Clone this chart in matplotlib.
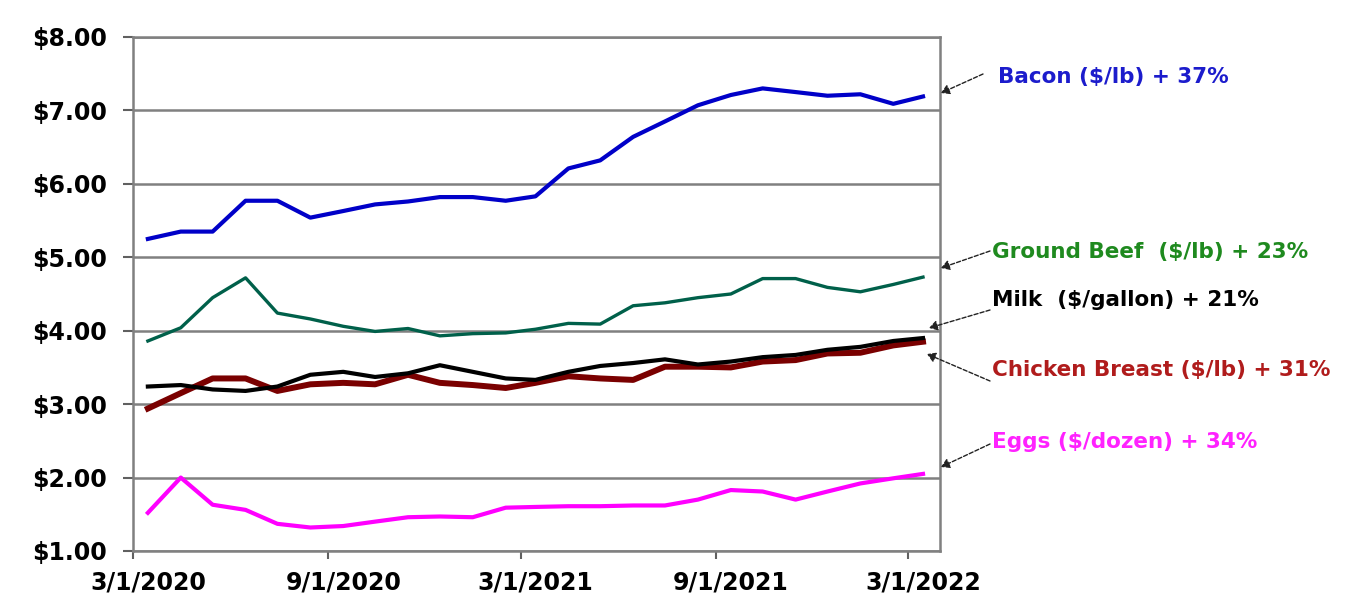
import matplotlib
matplotlib.use("Agg")
import matplotlib.pyplot as plt
import matplotlib.dates as mdates
import pandas as pd

# ---- data (monthly retail prices, Mar 2020 - Mar 2022) ----
months = pd.date_range("2020-03-01", periods=25, freq="MS") + pd.Timedelta(days=14)

bacon = [5.25, 5.35, 5.35, 5.77, 5.77, 5.54, 5.63, 5.72, 5.76, 5.82, 5.82, 5.77, 5.83,
         6.21, 6.32, 6.64, 6.85, 7.07, 7.21, 7.30, 7.25, 7.20, 7.22, 7.09, 7.19]
ground_beef = [3.86, 4.04, 4.45, 4.72, 4.24, 4.16, 4.06, 3.99, 4.03, 3.93, 3.96, 3.97, 4.02,
               4.10, 4.09, 4.34, 4.38, 4.45, 4.50, 4.71, 4.71, 4.59, 4.53, 4.63, 4.73]
milk = [3.24, 3.26, 3.20, 3.18, 3.24, 3.40, 3.44, 3.37, 3.42, 3.53, 3.44, 3.35, 3.33,
        3.44, 3.52, 3.56, 3.61, 3.54, 3.58, 3.64, 3.67, 3.74, 3.78, 3.86, 3.90]
chicken = [2.94, 3.15, 3.35, 3.35, 3.18, 3.27, 3.29, 3.27, 3.40, 3.29, 3.26, 3.22, 3.29,
           3.38, 3.35, 3.33, 3.51, 3.51, 3.50, 3.58, 3.60, 3.69, 3.70, 3.80, 3.85]
eggs = [1.52, 2.00, 1.63, 1.56, 1.37, 1.32, 1.34, 1.40, 1.46, 1.47, 1.46, 1.59, 1.60,
        1.61, 1.61, 1.62, 1.62, 1.70, 1.83, 1.81, 1.70, 1.81, 1.92, 1.99, 2.05]

labels = ["Bacon ($/lb) + 37%", "Ground Beef  ($/lb) + 23%", "Milk  ($/gallon) + 21%",
          "Chicken Breast ($/lb) + 31%", "Eggs ($/dozen) + 34%"]
y_ticks = [1, 2, 3, 4, 5, 6, 7, 8]
x_tick_dates = pd.to_datetime(["2020-03-01", "2020-09-01", "2021-03-01", "2021-09-01", "2022-03-01"])
x_tick_labels = ["3/1/2020", "9/1/2020", "3/1/2021", "9/1/2021", "3/1/2022"]

W, H = 1350, 614
fig = plt.figure(figsize=(W / 100, H / 100), dpi=100)
ax = fig.add_axes([133 / W, 1 - 551 / H, (940 - 133) / W, (551 - 37) / H])

ax.plot(months, bacon, color="#0000c8", lw=3.0, zorder=3)
ax.plot(months, ground_beef, color="#00604a", lw=2.4, zorder=3)
ax.plot(months, chicken, color="#7a0000", lw=4.3, zorder=3)
ax.plot(months, milk, color="black", lw=3.0, zorder=4)
ax.plot(months, eggs, color="#ff00ff", lw=3.0, zorder=3)

ax.set_ylim(1, 8)
ax.set_xlim(pd.Timestamp("2020-03-01"), pd.Timestamp("2022-03-31"))
ax.set_yticks(y_ticks)
ax.set_yticklabels([f"${v:.2f}" for v in y_ticks], fontsize=17, fontweight="bold",
                   family="DejaVu Sans")
ax.tick_params(axis="y", length=7, width=1.5, color="#606060", pad=12)

ax.set_xticks(x_tick_dates)
ax.set_xticklabels([])
ax.tick_params(axis="x", which="major", length=6, width=1.5, color="#606060")
ax.set_xticks(x_tick_dates + pd.Timedelta(days=14), minor=True)
ax.set_xticklabels(x_tick_labels, minor=True, fontsize=17, fontweight="bold",
                   family="DejaVu Sans")
ax.tick_params(axis="x", which="minor", length=0, pad=14)

ax.grid(axis="y", color="#808080", lw=1.8, zorder=1)
ax.set_axisbelow(True)
for s in ax.spines.values():
    s.set_color("#808080")
    s.set_linewidth(1.8)

# ---- annotations ----
def fp(x, y):
    return (x / W, 1 - y / H)

text_pos = [(998, 77), (992, 252), (992, 300), (992, 370), (992, 442)]
text_col = ["#1c1ccc", "#1f8a1f", "black", "#b01c1c", "#ff22ff"]
heads = [(941, 93), (941, 268), (929, 328), (927, 354), (941, 467)]
tails = [(983, 74), (990, 251), (990, 310), (990, 381), (990, 444)]

for lab, tp, col, hd, tl in zip(labels, text_pos, text_col, heads, tails):
    fig.text(*fp(*tp), lab, color=col, fontsize=15.5, fontweight="bold",
             family="DejaVu Sans", ha="left", va="center")
    fig.add_artist(matplotlib.patches.FancyArrowPatch(
        fp(*tl), fp(*hd), transform=fig.transFigure,
        arrowstyle="-|>,head_length=5,head_width=3", color="#222222",
        lw=1.0, linestyle=(0, (3, 1.5)), shrinkA=0, shrinkB=0))

fig.savefig("out.png", dpi=100)
